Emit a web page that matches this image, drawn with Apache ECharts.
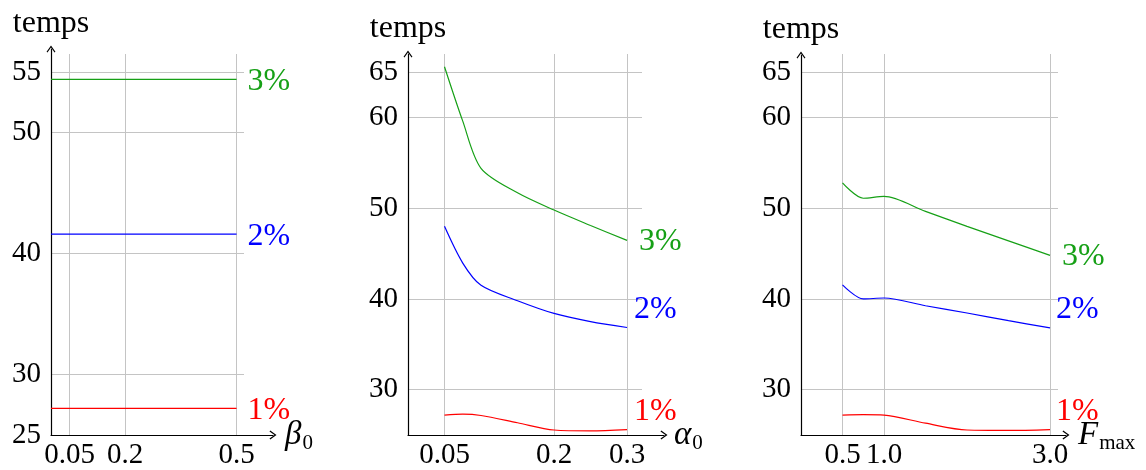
<!DOCTYPE html>
<html>
<head>
<meta charset="utf-8">
<script src="https://cdn.jsdelivr.net/npm/echarts@6/dist/echarts.min.js"></script>
<style>
html, body { margin: 0; padding: 0; background: #fff; }
#main { width: 1146px; height: 470px; }
</style>
</head>
<body>
<div id="main"></div>
<script>
// panel 1 : temps vs beta0
const betaX = [0, 0.05, 0.2, 0.5]
const beta1 = [27.2, 27.2, 27.2, 27.2]
const beta2 = [41.6, 41.6, 41.6, 41.6]
const beta3 = [54.4, 54.4, 54.4, 54.4]
const betaXTicks = [0.05, 0.2, 0.5]
const betaXLabels = ['0.05', '0.2', '0.5']
const betaYLabels = [25, 30, 40, 50, 55]
const betaYGrid = [30, 40, 50, 55]

// panel 2 : temps vs alpha0
const alphaX = [0.05, 0.075, 0.1, 0.15, 0.2, 0.25, 0.3]
const alpha1 = [27.2, 27.3, 27.15, 26.35, 25.55, 25.45, 25.6]
const alpha2 = [48.0, 43.95, 41.5, 39.8, 38.4, 37.5, 36.85]
const alpha3 = [65.6, 59.6, 54.4, 51.7, 49.8, 48.1, 46.45]
const alphaXTicks = [0.05, 0.2, 0.3]
const alphaXLabels = ['0.05', '0.2', '0.3']

// panel 3 : temps vs Fmax
const fmaxX = [0.5, 0.75, 1.0, 1.5, 2.0, 2.5, 3.0]
const fmax1 = [27.2, 27.25, 27.2, 26.3, 25.55, 25.5, 25.6]
const fmax2 = [41.55, 40.0, 40.1, 39.25, 38.45, 37.6, 36.8]
const fmax3 = [52.8, 51.1, 51.3, 49.65, 48.0, 46.4, 44.8]
const fmaxXTicks = [0.5, 1.0, 3.0]
const fmaxXLabels = ['0.5', '1.0', '3.0']

const yLabels = [30, 40, 50, 60, 65]
const seriesNames = ['1%', '2%', '3%']

const SERIF = '"Liberation Serif", "DejaVu Serif", serif'
const COLORS = ['#ff0000', '#0000ff', '#16a016']
const GRID_GREY = '#c4c4c4'
const ARROW = 'path://M5 0L10 7L9 7.9L5 2.3L1 7.9L0 7Z'

const chart = echarts.init(document.getElementById('main'))

const plotGrids = [
  { left: 51, top: 54, width: 193, height: 381 },
  { left: 408, top: 54, width: 234, height: 381 },
  { left: 801, top: 54, width: 257, height: 381 }
]
// bigger grids that only carry the arrowed axis lines
const arrowGrids = [
  { left: 51, top: 49, width: 222, height: 386 },
  { left: 408, top: 54, width: 256, height: 381 },
  { left: 801, top: 55, width: 265, height: 380 }
]

const panels = [
  { xs: betaX, ys: [beta1, beta2, beta3], xTicks: betaXTicks, xLabels: betaXLabels,
    yLab: betaYLabels, yGrid: betaYGrid, xMax: 0.52, yMax: 56.5,
    name: '{i|β}{s|0}', nameGap: 12,
    offsets: [[11, 2], [11, 2], [11, 2]] },
  { xs: alphaX, ys: [alpha1, alpha2, alpha3], xTicks: alphaXTicks, xLabels: alphaXLabels,
    yLab: yLabels, yGrid: yLabels, xMax: 0.3205, yMax: 67,
    name: '{i|α}{s|0}', nameGap: 10,
    offsets: [[7, -18], [7, -18], [12, 1]] },
  { xs: fmaxX, ys: [fmax1, fmax2, fmax3], xTicks: fmaxXTicks, xLabels: fmaxXLabels,
    yLab: yLabels, yGrid: yLabels, xMax: 3.096, yMax: 67,
    name: '{i|F}{s|max}', nameGap: 12,
    offsets: [[6, -18], [6, -18], [12, 1]] }
]

const grid = plotGrids.concat(arrowGrids)
const xAxis = []
const yAxis = []
const series = []

panels.forEach((p, k) => {
  xAxis.push({
    type: 'value', gridIndex: k, min: 0, max: p.xMax,
    axisLine: { show: false },
    axisTick: { show: false, customValues: p.xTicks },
    splitLine: { show: true, lineStyle: { color: GRID_GREY, width: 1 } },
    axisLabel: {
      customValues: p.xTicks, margin: 6,
      fontFamily: SERIF, fontSize: 29, color: '#000',
      formatter: v => p.xLabels[p.xTicks.indexOf(v)]
    }
  })
  yAxis.push({
    type: 'value', gridIndex: k, min: 25, max: p.yMax,
    axisLine: { show: false },
    axisTick: { show: false, customValues: p.yGrid },
    splitLine: { show: true, lineStyle: { color: GRID_GREY, width: 1 } },
    axisLabel: {
      customValues: p.yLab, margin: 10,
      fontFamily: SERIF, fontSize: 29, color: '#000'
    }
  })
  p.ys.forEach((ys, j) => {
    series.push({
      type: 'line', name: seriesNames[j],
      xAxisIndex: k, yAxisIndex: k,
      data: p.xs.map((x, i) => [x, ys[i]]),
      smooth: 0.3, showSymbol: false, z: 4,
      lineStyle: { color: COLORS[j], width: 1.2 },
      itemStyle: { color: COLORS[j] },
      endLabel: {
        show: true, formatter: seriesNames[j], distance: 0,
        offset: p.offsets[j],
        fontFamily: SERIF, fontSize: 32, color: COLORS[j]
      }
    })
  })
})

panels.forEach((p, k) => {
  xAxis.push({
    type: 'value', gridIndex: 3 + k, min: 0, max: 1, z: 3,
    axisLine: { show: true, symbol: ['none', ARROW], symbolSize: [9, 7],
      lineStyle: { color: '#000', width: 1.2 } },
    axisTick: { show: false }, axisLabel: { show: false }, splitLine: { show: false },
    name: p.name, nameLocation: 'end', nameGap: p.nameGap,
    nameTextStyle: {
      rich: {
        i: { fontFamily: SERIF, fontStyle: 'italic', fontSize: 33, color: '#000' },
        s: { fontFamily: SERIF, fontSize: 21, color: '#000', padding: [16, 0, 0, 1] }
      }
    }
  })
  yAxis.push({
    type: 'value', gridIndex: 3 + k, min: 0, max: 1, z: 3,
    axisLine: { show: true, symbol: ['none', ARROW], symbolSize: [9, 7],
      lineStyle: { color: '#000', width: 1.2 } },
    axisTick: { show: false }, axisLabel: { show: false }, splitLine: { show: false },
    name: 'temps', nameLocation: 'end', nameGap: 9,
    nameTextStyle: { fontFamily: SERIF, fontSize: 32, color: '#000', align: 'center' }
  })
})

chart.setOption({
  backgroundColor: '#fff',
  animation: false,
  grid: grid,
  xAxis: xAxis,
  yAxis: yAxis,
  series: series
})
</script>
</body>
</html>
